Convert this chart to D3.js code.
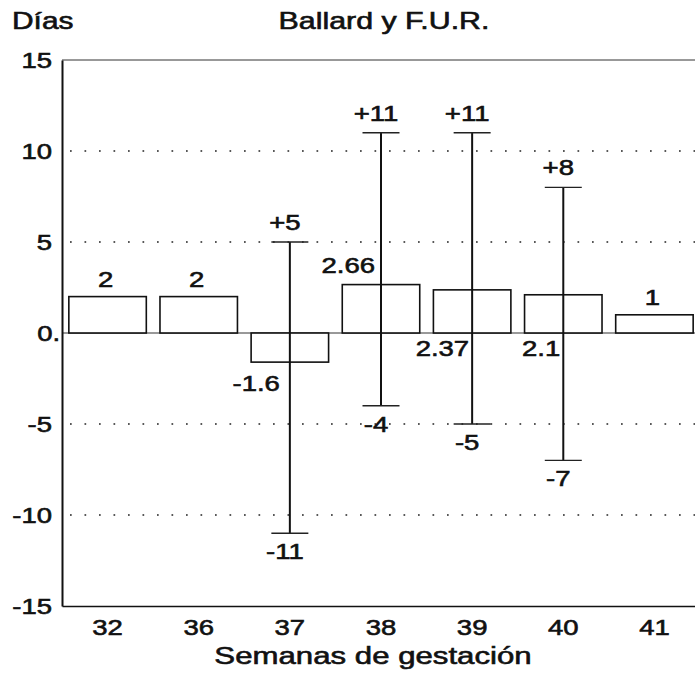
<!DOCTYPE html>
<html>
<head>
<meta charset="utf-8">
<script src="https://cdn.jsdelivr.net/npm/d3@7"></script>
<style>
  html, body { margin: 0; padding: 0; background: #fff; }
  svg { display: block; }
  text { font-family: "Liberation Sans", Arial, Helvetica, sans-serif; fill: #111; stroke: #111; stroke-width: 0.6px; }
</style>
</head>
<body>
<svg id="chart" width="695" height="676"></svg>
<script>
// ---- data ----
const categories = ["32", "36", "37", "38", "39", "40", "41"];
const means = [2, 2, -1.6, 2.66, 2.37, 2.1, 1];
const upper = [null, null, 5, 11, 11, 8, null];
const lower = [null, null, -11, -4, -5, -7, null];
const meanLabels = ["2", "2", "-1.6", "2.66", "2.37", "2.1", "1"];
const upperLabels = [null, null, "+5", "+11", "+11", "+8", null];
const lowerLabels = [null, null, "-11", "-4", "-5", "-7", null];
const yTicks = [-15, -10, -5, 0, 5, 10, 15];
const yTickLabels = ["-15", "-10", "-5", "0.", "5", "10", "15"];
const gridValues = [-10, -5, 5, 10];
const titleText = "Ballard y F.U.R.";
const yTitleText = "Días";
const xTitleText = "Semanas de gestación";

// ---- drawing ----
const svg = d3.select("#chart");
const W = 695;
const axisX = 62;
const SX = 1.25;    // horizontal stretch of the lettering
const FS = 22;

const x = d3.scaleBand().domain(categories).range([axisX, 700]).paddingInner(0.15).paddingOuter(0.075);
const y = d3.scaleLinear().domain([-15, 15]).range([606, 60]);

function label(str, px, py, anchor, size, sx) {
  return svg.append("text")
    .attr("transform", `translate(${px},${py}) scale(${sx || SX},1)`)
    .attr("text-anchor", anchor || "middle")
    .attr("font-size", (size || FS) + "px")
    .text(str);
}

// dotted grid lines
svg.append("g").selectAll("line").data(gridValues).join("line")
  .attr("x1", axisX + 8).attr("x2", W)
  .attr("y1", d => y(d)).attr("y2", d => y(d))
  .attr("stroke", "#222").attr("stroke-width", 1.7)
  .attr("stroke-dasharray", "1.7,12.8");

// top frame line
svg.append("line").attr("x1", axisX).attr("x2", W)
  .attr("y1", y(15)).attr("y2", y(15))
  .attr("stroke", "#333").attr("stroke-width", 1);

// zero line
svg.append("line").attr("x1", axisX).attr("x2", W)
  .attr("y1", y(0)).attr("y2", y(0))
  .attr("stroke", "#333").attr("stroke-width", 1);

// bars
const cx = i => x(categories[i]) + x.bandwidth() / 2;
svg.append("g").selectAll("rect").data(means).join("rect")
  .attr("x", (d, i) => x(categories[i]))
  .attr("width", x.bandwidth())
  .attr("y", d => y(Math.max(0, d)))
  .attr("height", d => Math.abs(y(d) - y(0)))
  .attr("fill", "#fff").attr("stroke", "#111").attr("stroke-width", 1.6);

// error bars
const capW = 37;
means.forEach((m, i) => {
  if (upper[i] === null) return;
  const c = cx(i);
  svg.append("line").attr("x1", c).attr("x2", c)
    .attr("y1", y(upper[i])).attr("y2", y(lower[i]))
    .attr("stroke", "#111").attr("stroke-width", 2);
  [upper[i], lower[i]].forEach(v => {
    svg.append("line").attr("x1", c - capW / 2).attr("x2", c + capW / 2)
      .attr("y1", y(v)).attr("y2", y(v))
      .attr("stroke", "#222").attr("stroke-width", 1.4);
  });
  label(upperLabels[i], c - 5, y(upper[i]) - 12, "middle");
  label(lowerLabels[i], c - 5, y(lower[i]) + 26, "middle");
});

// mean labels
const meanPlace = ["above", "above", "belowBar", "aboveLeft", "underZero", "underZero", "above"];
means.forEach((m, i) => {
  const c = cx(i);
  const p = meanPlace[i];
  if (p === "above") label(meanLabels[i], c - 2, y(m) - 10, "middle");
  else if (p === "aboveLeft") label(meanLabels[i], c - 6, y(m) - 12, "end");
  else if (p === "belowBar") label(meanLabels[i], c - 10, y(m) + 29, "end");
  else label(meanLabels[i], c - 3, y(0) + 23, "end");
});

// y axis
const yAxis = svg.append("g").attr("transform", `translate(${axisX},0)`)
  .call(d3.axisLeft(y).tickValues(yTicks)
    .tickFormat((d, i) => yTickLabels[i]).tickSize(0).tickPadding(8));
yAxis.select(".domain").attr("stroke", "#111").attr("stroke-width", 2);
yAxis.selectAll("text")
  .attr("font-size", FS + "px")
  .attr("font-family", null)
  .attr("fill", null)
  .attr("dy", "0.36em")
  .attr("transform", `scale(${SX},1)`)
  .attr("dx", t => (t === 0 ? "0.3em" : null));

// x axis
const xAxis = svg.append("g").attr("transform", `translate(0,${y(-15)})`)
  .call(d3.axisBottom(x).tickSize(0).tickSizeOuter(0).tickPadding(13));
xAxis.select(".domain").attr("stroke", "#111").attr("stroke-width", 1.6);
xAxis.selectAll("text")
  .attr("font-size", FS + "px")
  .attr("font-family", null)
  .attr("fill", null)
  .attr("transform", `scale(${SX},1)`);

// titles
label(yTitleText, 12, 29, "start", 23, 1.3);
label(titleText, 384, 29, "middle", 23, 1.32);
label(xTitleText, 373, 664, "middle", 24, 1.3);
</script>
</body>
</html>
